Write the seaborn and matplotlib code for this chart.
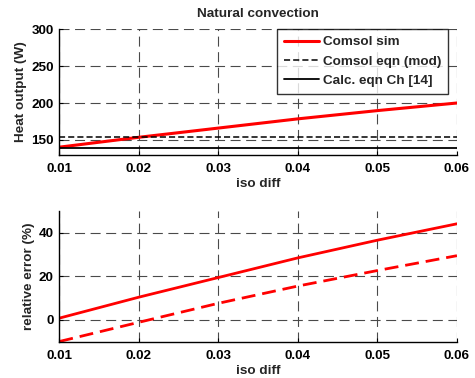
import numpy as np
import pandas as pd
import matplotlib
matplotlib.use("Agg")
import matplotlib.pyplot as plt
import seaborn as sns

# Isotherm difference values (x axis)
iso_diff = [0.01, 0.02, 0.03, 0.04, 0.05, 0.06]

# Heat output (W)
comsol_sim = [140.1, 153.5, 166.0, 178.5, 189.7, 200.0]
comsol_eqn_mod = [153.6, 153.6, 153.6, 153.6, 153.6, 153.6]
calc_eqn_ch14 = [139.0, 139.0, 139.0, 139.0, 139.0, 139.0]

# Relative error (%) of the simulation against each equation
err_vs_calc = [0.8, 10.4, 19.4, 28.4, 36.5, 44.0]
err_vs_mod = [-9.9, -1.1, 7.6, 15.5, 22.6, 29.4]

x_ticks = [0.01, 0.02, 0.03, 0.04, 0.05, 0.06]
x_tick_labels = ["0.01", "0.02", "0.03", "0.04", "0.05", "0.06"]
top_y_ticks = [150, 200, 250, 300]
bot_y_ticks = [0, 20, 40]

sns.set_theme(style="white")
plt.rcParams["font.family"] = ["Liberation Sans", "DejaVu Sans"]
plt.rcParams["font.weight"] = "bold"
plt.rcParams["axes.labelweight"] = "bold"
plt.rcParams["axes.titleweight"] = "bold"

FS = 9.7
fig = plt.figure(figsize=(4.75, 3.78), dpi=100)
ax1 = fig.add_axes([0.125, 0.591, 0.837, 0.3315])
ax2 = fig.add_axes([0.125, 0.096, 0.837, 0.3466])

top = pd.DataFrame({"x": iso_diff, "sim": comsol_sim,
                    "mod": comsol_eqn_mod, "calc": calc_eqn_ch14})
bot = pd.DataFrame({"x": iso_diff, "calc": err_vs_calc, "mod": err_vs_mod})

grid_kw = dict(color="#4a4a4a", linestyle=(0, (9, 5)), linewidth=0.8)

def style_axes(ax, yticks, ylim):
    ax.set_xlim(0.01, 0.06)
    ax.set_ylim(*ylim)
    ax.set_xticks(x_ticks)
    ax.set_xticklabels(x_tick_labels)
    ax.set_yticks(yticks)
    ax.grid(True, **grid_kw)
    ax.set_axisbelow(True)
    for s in ["top", "right"]:
        ax.spines[s].set_visible(False)
    for s in ["left", "bottom"]:
        ax.spines[s].set_color("black")
        ax.spines[s].set_linewidth(1.0)
    ax.tick_params(axis="both", which="both", direction="in", length=3,
                   width=0.8, colors="black", labelsize=FS, pad=4,
                   left=True, bottom=True, top=False, right=False)
    ax.tick_params(axis="x", pad=6)
    for lab in ax.get_xticklabels() + ax.get_yticklabels():
        lab.set_fontweight("bold")
    ax.set_xlabel("iso diff", fontsize=FS, fontweight="bold", labelpad=2)
    ax.set_facecolor("white")

# Top panel: heat output
sns.lineplot(data=top, x="x", y="sim", ax=ax1, color="red", linewidth=2.2,
             label="Comsol sim")
sns.lineplot(data=top, x="x", y="mod", ax=ax1, color="black", linewidth=1.1,
             linestyle=(0, (4, 2)), label="Comsol eqn (mod)")
sns.lineplot(data=top, x="x", y="calc", ax=ax1, color="black", linewidth=1.3,
             label="Calc. eqn Ch [14]")
style_axes(ax1, top_y_ticks, (130, 300))
ax1.set_ylabel("Heat output (W)", fontsize=FS, fontweight="bold", labelpad=3)
ax1.set_title("Natural convection", fontsize=FS, fontweight="bold", pad=9)
leg = ax1.legend(loc="upper right", bbox_to_anchor=(0.978, 1.0), fontsize=FS,
                 frameon=True, fancybox=False, edgecolor="black",
                 handlelength=2.6, labelspacing=0.5, borderpad=0.5,
                 handletextpad=0.3, borderaxespad=0.0)
leg.get_frame().set_linewidth(1.0)
for t in leg.get_texts():
    t.set_fontweight("bold")

# Bottom panel: relative error
sns.lineplot(data=bot, x="x", y="calc", ax=ax2, color="red", linewidth=2.0)
sns.lineplot(data=bot, x="x", y="mod", ax=ax2, color="red", linewidth=2.0,
             linestyle=(0, (5, 2.5)))
style_axes(ax2, bot_y_ticks, (-10, 50))
ax2.set_ylabel("relative error (%)", fontsize=FS, fontweight="bold", labelpad=3)

fig.savefig("out.png", dpi=100, facecolor="white")
